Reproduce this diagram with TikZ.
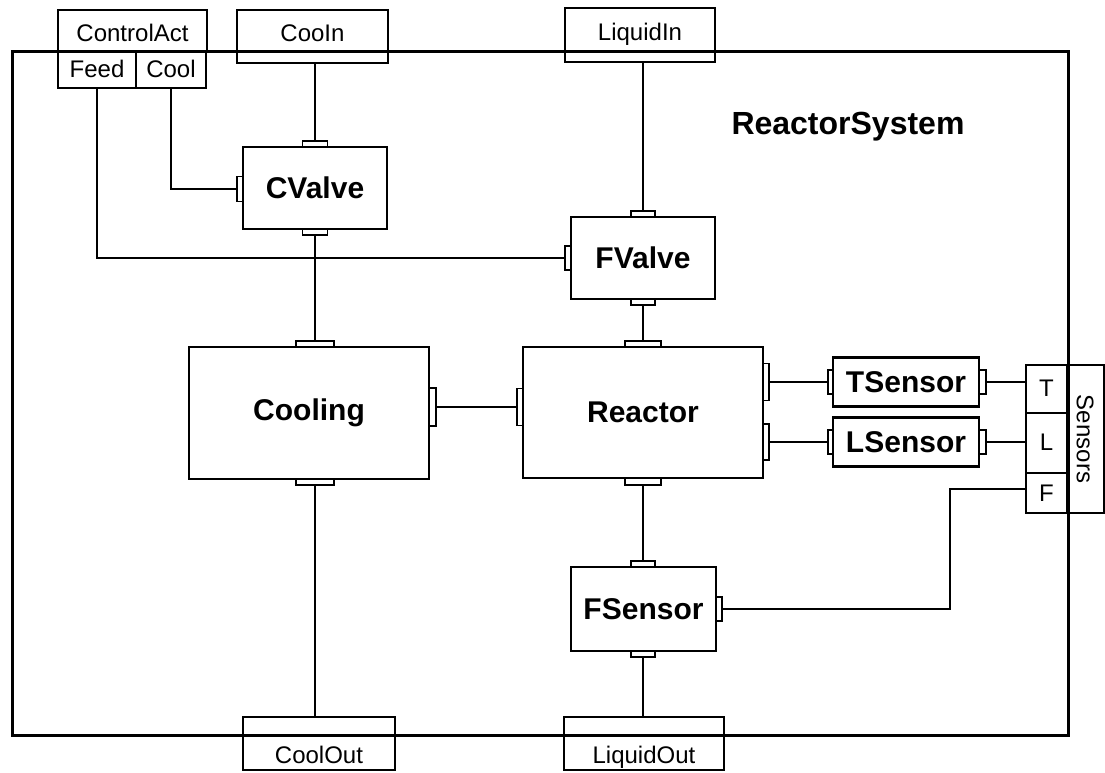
\documentclass[tikz,border=0pt]{standalone}
\usepackage{fontspec}
\setmainfont{Liberation Sans}
\begin{document}
\begin{tikzpicture}[x=1pt,y=-1pt,
  comp/.style={draw, line width=2.2pt, inner sep=0pt, outer sep=0pt, font=\fontsize{30}{33}\selectfont\bfseries},
  port/.style={draw, line width=1.3pt, fill=white, inner sep=0pt, outer sep=0pt},
  ext/.style={draw, line width=1.9pt, inner sep=0pt, outer sep=0pt},
  lbl/.style={font=\fontsize{24}{28}\selectfont, inner sep=0pt, anchor=base},
  wire/.style={line width=1.8pt},
  frame/.style={line width=3pt}]
\useasboundingbox (0,0) rectangle (1105,772);

% system frame
\node[draw, frame, inner sep=0pt, outer sep=0pt, minimum width=1056, minimum height=684] (sys) at (540,393) {};
\node[font=\fontsize{32}{36}\selectfont\bfseries, inner sep=0pt] (title) at (848,127) {ReactorSystem};

% external interface boxes
\node[ext, minimum width=149, minimum height=42] (ca) at (132.5,31) {};
\node[lbl] (catext) at (132.5,41) {ControlAct};
\node[ext, minimum width=78, minimum height=36] (feed) at (97,70) {};
\node[lbl] (feedtext) at (97,77) {Feed};
\node[ext, minimum width=70, minimum height=36] (cool) at (171,70) {};
\node[lbl] (cooltext) at (171,77) {Cool};

\node[ext, minimum width=151, minimum height=53] (coolin) at (312.5,36.5) {};
\node[lbl] (coolintext) at (312.5,41) {CooIn};
\node[ext, minimum width=150, minimum height=54] (liqin) at (640,35) {};
\node[lbl] (liqintext) at (640,40) {LiquidIn};
\node[ext, minimum width=152, minimum height=53] (coolout) at (319,743.5) {};
\node[lbl] (coolouttext) at (319,763) {CoolOut};
\node[ext, minimum width=160, minimum height=53] (liqout) at (644,743.5) {};
\node[lbl] (liqouttext) at (644,763) {LiquidOut};

% sensors interface
\node[ext, minimum width=41, minimum height=48] (sT) at (1046.5,389) {};
\node[lbl] (sTtext) at (1046.5,396) {T};
\node[ext, minimum width=41, minimum height=60] (sL) at (1046.5,443) {};
\node[lbl] (sLtext) at (1046.5,450) {L};
\node[ext, minimum width=41, minimum height=40] (sF) at (1046.5,493) {};
\node[lbl] (sFtext) at (1046.5,501) {F};
\node[ext, minimum width=37, minimum height=148] (sens) at (1085.5,439) {};
\node[font=\fontsize{24}{28}\selectfont, inner sep=0pt, rotate=-90] (senstext) at (1085,439) {Sensors};

% components
\node[comp, minimum width=144, minimum height=82] (cvalve) at (315,188) {CValve};
\node[comp, minimum width=144, minimum height=82] (fvalve) at (643,258) {FValve};
\node[comp, minimum width=240, minimum height=132] (cooling) at (309,413) {Cooling};
\node[comp, minimum width=240, minimum height=131] (reactor) at (643,412.5) {Reactor};
\node[comp, minimum width=146, minimum height=49] (tsensor) at (906,382) {TSensor};
\node[comp, minimum width=146, minimum height=49] (lsensor) at (906,442) {LSensor};
\node[comp, minimum width=145, minimum height=84] (fsensor) at (643.5,609) {FSensor};

% ports
\node[port, minimum width=25, minimum height=6] (cvT) at (315,144) {};
\node[port, minimum width=25, minimum height=6] (cvB) at (315,232) {};
\node[port, minimum width=6, minimum height=25] (cvL) at (240,189) {};
\node[port, minimum width=24, minimum height=6] (fvT) at (643,214) {};
\node[port, minimum width=24, minimum height=6] (fvB) at (643,302) {};
\node[port, minimum width=6, minimum height=24] (fvL) at (568,258) {};
\node[port, minimum width=38, minimum height=6] (coT) at (315,344) {};
\node[port, minimum width=38, minimum height=6] (coB) at (315,482) {};
\node[port, minimum width=7, minimum height=38] (coR) at (432.5,407) {};
\node[port, minimum width=36, minimum height=6] (reT) at (643,344) {};
\node[port, minimum width=36, minimum height=7] (reB) at (643,481.5) {};
\node[port, minimum width=6, minimum height=37] (reL) at (520,407) {};
\node[port, minimum width=6, minimum height=37] (reR1) at (766,382) {};
\node[port, minimum width=6, minimum height=36] (reR2) at (766,442) {};
\node[port, minimum width=5, minimum height=24] (tsL) at (830.5,382) {};
\node[port, minimum width=7, minimum height=24] (tsR) at (982.5,382) {};
\node[port, minimum width=5, minimum height=24] (lsL) at (830.5,442) {};
\node[port, minimum width=7, minimum height=24] (lsR) at (982.5,442) {};
\node[port, minimum width=24, minimum height=6] (fsT) at (643,564) {};
\node[port, minimum width=24, minimum height=6] (fsB) at (643,654) {};
\node[port, minimum width=6, minimum height=24] (fsR) at (719,609) {};

\coordinate (fout) at (1026,489);
\coordinate (fbend) at (950,609);

% connectors
\draw[wire] (cvT.north |- coolin.south) -- (cvT.north);
\draw[wire] (fvT.north |- liqin.south) -- (fvT.north);
\draw[wire] (cool.south) |- (cvL.west);
\draw[wire] (feed.south) |- (fvL.west);
\draw[wire] (cvB.south) -- (cvB.south |- coT.north);
\draw[wire] (fvB.south) -- (fvB.south |- reT.north);
\draw[wire] (coR.east) -- (reL.west);
\draw[wire] (reR1.east) -- (tsL.west);
\draw[wire] (reR2.east) -- (lsL.west);
\draw[wire] (tsR.east) -- (tsR.east -| sT.west);
\draw[wire] (lsR.east) -- (lsR.east -| sL.west);
\draw[wire] (reB.south) -- (reB.south |- fsT.north);
\draw[wire] (fout) -| (fbend) -- (fsR.east);
\draw[wire] (fsB.south) -- (fsB.south |- liqout.north);
\draw[wire] (coB.south) -- (coB.south |- coolout.north);
\end{tikzpicture}
\end{document}
